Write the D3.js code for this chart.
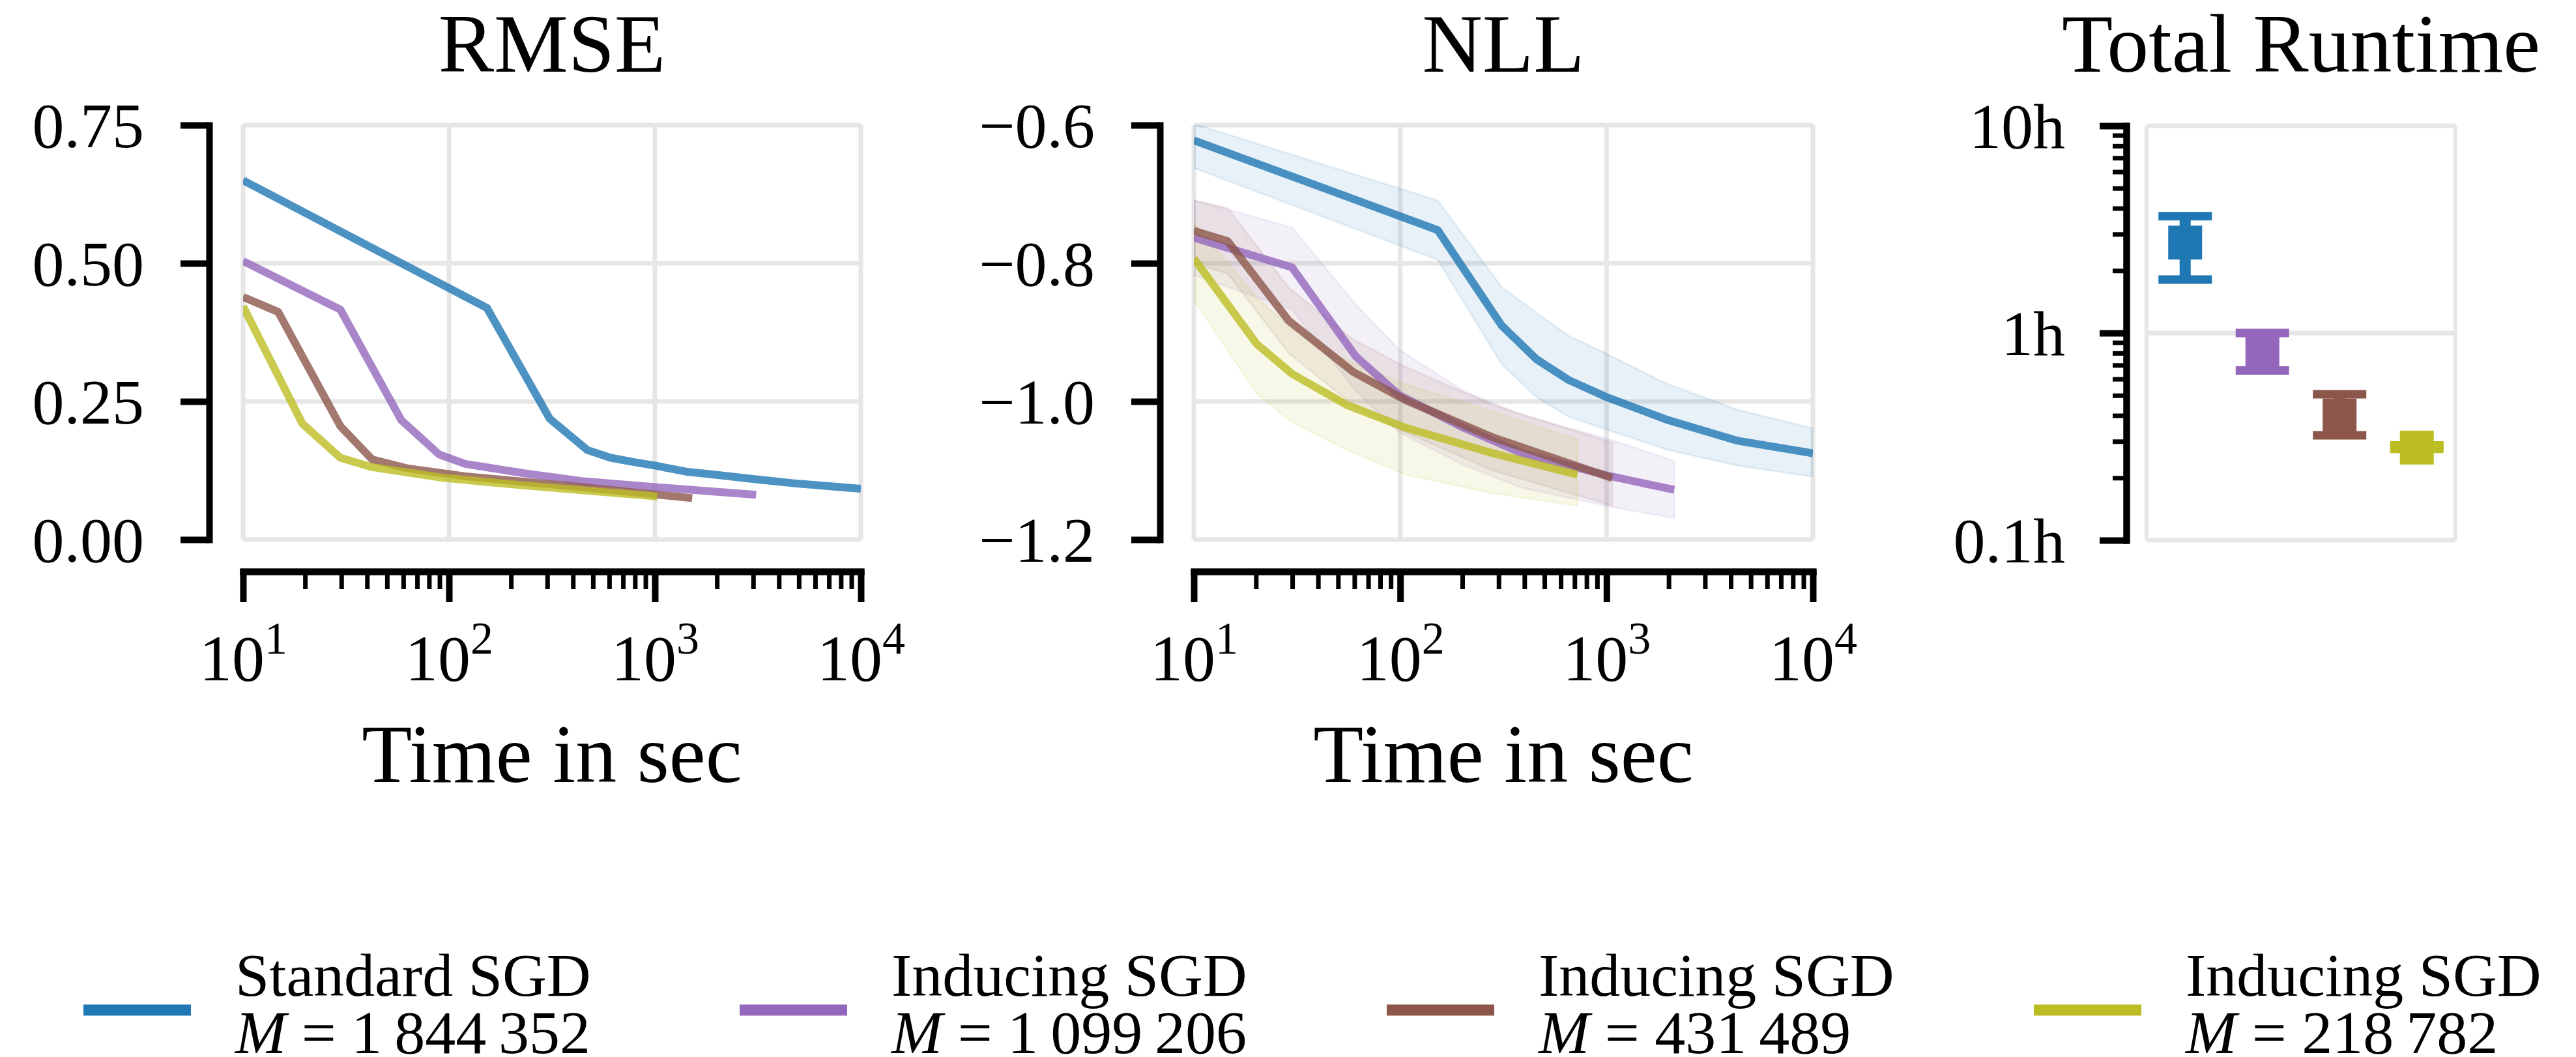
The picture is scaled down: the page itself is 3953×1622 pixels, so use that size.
<!DOCTYPE html>
<html>
<head>
<meta charset="utf-8">
<script src="https://cdn.jsdelivr.net/npm/d3@7"></script>
<style>
  html, body { margin: 0; padding: 0; background: #fff; }
  svg { display: block; }
</style>
</head>
<body>
<svg id="chart" width="3953" height="1622"></svg>
<script>
// ---------- data ----------
const legendTitles = ["Standard SGD", "Inducing SGD", "Inducing SGD", "Inducing SGD"];
const legendM = ["1\u2009844\u2009352", "1\u2009099\u2009206", "431\u2009489", "218\u2009782"];

// RMSE vs. wall-clock time (seconds)
const rmseTimeStandard = [10, 153, 308, 470, 610, 800, 1000, 1413, 2000, 3090, 5000, 10000];
const rmseStandard     = [0.650, 0.419, 0.219, 0.162, 0.148, 0.140, 0.134, 0.123, 0.117, 0.109, 0.101, 0.092];
const rmseTimeInd1 = [10, 29.7, 58.7, 89.6, 120, 231, 440, 1000, 3100];
const rmseInd1     = [0.504, 0.416, 0.216, 0.154, 0.137, 0.120, 0.106, 0.095, 0.081];
const rmseTimeInd2 = [10, 14.8, 29.7, 42.4, 62.6, 120, 440, 1517];
const rmseInd2     = [0.439, 0.412, 0.205, 0.145, 0.129, 0.1145, 0.095, 0.075];
const rmseTimeInd3 = [10, 19.4, 29.7, 42.4, 92.4, 231, 1026];
const rmseInd3     = [0.422, 0.210, 0.148, 0.131, 0.112, 0.098, 0.078];

// NLL vs. wall-clock time: mean with lower / upper band
const nllTimeStandard = [10, 152, 310, 458, 655, 986, 1980, 4325, 10000];
const nllStandard     = [-0.622, -0.752, -0.890, -0.939, -0.969, -0.993, -1.027, -1.057, -1.075];
const nllStandardHi   = [-0.598, -0.709, -0.834, -0.872, -0.905, -0.930, -0.975, -1.012, -1.039];
const nllStandardLo   = [-0.662, -0.795, -0.946, -0.994, -1.022, -1.040, -1.070, -1.093, -1.109];
const nllTimeInd1 = [10, 29.9, 61, 99, 203, 389, 1033, 2128];
const nllInd1     = [-0.763, -0.806, -0.935, -0.991, -1.038, -1.075, -1.108, -1.128];
const nllInd1Hi   = [-0.709, -0.748, -0.860, -0.925, -0.985, -1.020, -1.055, -1.086];
const nllInd1Lo   = [-0.817, -0.867, -0.985, -1.045, -1.092, -1.125, -1.152, -1.169];
const nllTimeInd2 = [10, 14.6, 28.8, 59, 106, 281, 1067];
const nllInd2     = [-0.753, -0.768, -0.883, -0.957, -0.998, -1.052, -1.111];
const nllInd2Hi   = [-0.709, -0.720, -0.835, -0.910, -0.950, -1.005, -1.060];
const nllInd2Lo   = [-0.800, -0.815, -0.930, -1.005, -1.045, -1.100, -1.151];
const nllTimeInd3 = [10, 20.2, 29.9, 55, 106, 281, 722];
const nllInd3     = [-0.793, -0.917, -0.960, -1.005, -1.038, -1.075, -1.106];
const nllInd3Hi   = [-0.741, -0.850, -0.895, -0.940, -0.975, -1.015, -1.055];
const nllInd3Lo   = [-0.853, -0.989, -1.030, -1.070, -1.106, -1.133, -1.151];

// Total runtime in hours: mean with error-bar limits
const runtimeMean = [2.73, 0.81, 0.40, 0.280];
const runtimeLo   = [1.81, 0.66, 0.321, 0.276];
const runtimeHi   = [3.66, 1.00, 0.506, 0.287];

// ticks
const timeTickExponents = [1, 2, 3, 4];
const rmseTicks = [0, 0.25, 0.5, 0.75];
const nllTicks = [-1.2, -1.0, -0.8, -0.6];
const runtimeTicks = [0.1, 1, 10];
const runtimeTickLabels = ["0.1h", "1h", "10h"];

// ---------- styling ----------
const colors = ["#1f77b4", "#9467bd", "#8c564b", "#bcbd22"];
const FONT = "'Liberation Serif', 'DejaVu Serif', serif";
const GRID = "#e6e6e6";

const svg = d3.select("#chart");
svg.append("rect").attr("width", 3953).attr("height", 1622).attr("fill", "#fff");

const zip = (ts, vs, lo, hi) => ts.map((t, i) => ({t, v: vs[i], lo: lo ? lo[i] : null, hi: hi ? hi[i] : null}));

const rmseSeries = [
  zip(rmseTimeStandard, rmseStandard),
  zip(rmseTimeInd1, rmseInd1),
  zip(rmseTimeInd2, rmseInd2),
  zip(rmseTimeInd3, rmseInd3)
];
const nllSeries = [
  zip(nllTimeStandard, nllStandard, nllStandardLo, nllStandardHi),
  zip(nllTimeInd1, nllInd1, nllInd1Lo, nllInd1Hi),
  zip(nllTimeInd2, nllInd2, nllInd2Lo, nllInd2Hi),
  zip(nllTimeInd3, nllInd3, nllInd3Lo, nllInd3Hi)
];

const plotTop = 192, plotBottom = 828;

function styleAxis(g, width) {
  g.select(".domain").attr("stroke", "#000").attr("stroke-width", 10).attr("stroke-linecap", "square");
  g.selectAll(".tick line").attr("stroke", "#000").attr("stroke-width", width);
  g.selectAll("text").attr("font-family", FONT).attr("fill", "#000");
}

function timePanel(id, left, right, yDomain, yTicks, yFmt, title, series, bands) {
  const x = d3.scaleLog().domain([10, 10000]).range([left, right]);
  const y = d3.scaleLinear().domain(yDomain).range([plotBottom, plotTop]);
  const g = svg.append("g");

  // grid
  const majors = timeTickExponents.map(e => Math.pow(10, e));
  g.append("g").selectAll("line").data(majors).join("line")
    .attr("x1", d => x(d)).attr("x2", d => x(d))
    .attr("y1", plotTop).attr("y2", plotBottom)
    .attr("stroke", GRID).attr("stroke-width", 7);
  g.append("g").selectAll("line").data(yTicks).join("line")
    .attr("x1", left).attr("x2", right)
    .attr("y1", d => y(d)).attr("y2", d => y(d))
    .attr("stroke", GRID).attr("stroke-width", 7);

  // clip region
  svg.append("clipPath").attr("id", "clip-" + id)
    .append("rect").attr("x", left).attr("y", plotTop).attr("width", right - left).attr("height", plotBottom - plotTop);
  const plot = g.append("g").attr("clip-path", `url(#clip-${id})`);

  if (bands) {
    const area = d3.area().x(d => x(d.t)).y0(d => y(d.lo)).y1(d => y(d.hi));
    series.forEach((s, i) => {
      plot.append("path").datum(s).attr("d", area)
        .attr("fill", colors[i]).attr("fill-opacity", 0.1)
        .attr("stroke", colors[i]).attr("stroke-opacity", 0.1).attr("stroke-width", 3);
    });
  }
  const line = d3.line().x(d => x(d.t)).y(d => y(d.v));
  series.forEach((s, i) => {
    plot.append("path").datum(s).attr("d", line)
      .attr("fill", "none").attr("stroke", colors[i]).attr("stroke-opacity", 0.8)
      .attr("stroke-width", 12).attr("stroke-linejoin", "round").attr("stroke-linecap", "butt");
  });

  // y axis (offset spine)
  const ya = g.append("g").attr("transform", `translate(${left - 52},0)`)
    .call(d3.axisLeft(y).tickValues(yTicks).tickFormat(yFmt).tickSize(44).tickSizeOuter(0).tickPadding(56));
  styleAxis(ya, 10);
  ya.selectAll("text").attr("font-size", 98).attr("dy", "0.34em");

  // x axis: minor then major ticks
  const minors = [];
  timeTickExponents.slice(0, -1).forEach(e => { for (let k = 2; k <= 9; k++) minors.push(k * Math.pow(10, e)); });
  const xa2 = g.append("g").attr("transform", `translate(0,${plotBottom + 49})`)
    .call(d3.axisBottom(x).tickValues(minors).tickFormat("").tickSize(27).tickSizeOuter(0));
  styleAxis(xa2, 7);
  const xa = g.append("g").attr("transform", `translate(0,${plotBottom + 49})`)
    .call(d3.axisBottom(x).tickValues(majors).tickFormat("").tickSize(47).tickSizeOuter(0));
  styleAxis(xa, 10);
  xa.selectAll(".tick").each(function(d) {
    const t = d3.select(this).append("text")
      .attr("y", 167).attr("text-anchor", "middle")
      .attr("font-family", FONT).attr("font-size", 100).attr("fill", "#000");
    t.append("tspan").text("10");
    t.append("tspan").attr("font-size", 70).attr("dy", -41).text(Math.round(Math.log10(d)));
  });

  // titles
  g.append("text").attr("x", (left + right) / 2).attr("y", 110).attr("text-anchor", "middle")
    .attr("font-family", FONT).attr("font-size", 128).text(title);
  g.append("text").attr("x", (left + right) / 2).attr("y", 1200).attr("text-anchor", "middle")
    .attr("font-family", FONT).attr("font-size", 126).text("Time in sec");
}

timePanel("rmse", 373, 1321, [0, 0.75], rmseTicks, d3.format(".2f"), "RMSE", rmseSeries, false);
timePanel("nll", 1832, 2782, [-1.2, -0.6], nllTicks, d3.format(".1f"), "NLL", nllSeries, true);

// ---------- runtime panel ----------
(function() {
  const left = 3294, right = 3768, t = 193, b = 829;
  const x = d3.scalePoint().domain(d3.range(runtimeMean.length)).range([left, right]).padding(0.5);
  const y = d3.scaleLog().domain([0.1, 10]).range([b, t]);
  const g = svg.append("g");

  g.append("g").selectAll("line").data(runtimeTicks).join("line")
    .attr("x1", left).attr("x2", right).attr("y1", d => y(d)).attr("y2", d => y(d))
    .attr("stroke", GRID).attr("stroke-width", 7);
  g.append("g").selectAll("line").data([left, right]).join("line")
    .attr("x1", d => d).attr("x2", d => d).attr("y1", t).attr("y2", b)
    .attr("stroke", GRID).attr("stroke-width", 6);

  const minors = [];
  [0.1, 1].forEach(base => { for (let k = 2; k <= 9; k++) minors.push(k * base); });
  const ya2 = g.append("g").attr("transform", `translate(${left - 31},0)`)
    .call(d3.axisLeft(y).tickValues(minors).tickFormat("").tickSize(21).tickSizeOuter(0));
  styleAxis(ya2, 7);
  const ya = g.append("g").attr("transform", `translate(${left - 31},0)`)
    .call(d3.axisLeft(y).tickValues(runtimeTicks).tickFormat((d, i) => runtimeTickLabels[i])
      .tickSize(41).tickSizeOuter(0).tickPadding(53));
  styleAxis(ya, 10);
  ya.selectAll("text").attr("font-size", 98).attr("dy", "0.34em");

  const idx = d3.range(runtimeMean.length);
  const eb = g.append("g").selectAll("g").data(idx).join("g");
  eb.append("line")
    .attr("x1", i => x(i)).attr("x2", i => x(i))
    .attr("y1", i => y(runtimeLo[i])).attr("y2", i => y(runtimeHi[i]))
    .attr("stroke", i => colors[i]).attr("stroke-width", 17);
  [runtimeLo, runtimeHi].forEach(arr => {
    eb.append("line")
      .attr("x1", i => x(i) - 41).attr("x2", i => x(i) + 41)
      .attr("y1", i => y(arr[i])).attr("y2", i => y(arr[i]))
      .attr("stroke", i => colors[i]).attr("stroke-width", 13);
  });
  eb.append("rect")
    .attr("x", i => x(i) - 26).attr("y", i => y(runtimeMean[i]) - 26)
    .attr("width", 52).attr("height", 52)
    .attr("fill", i => colors[i]);

  g.append("text").attr("x", (left + right) / 2).attr("y", 110).attr("text-anchor", "middle")
    .attr("font-family", FONT).attr("font-size", 128).text("Total Runtime");
})();

// ---------- legend ----------
const legendX = [128, 1135, 2128, 3121];
const lg = svg.append("g");
legendTitles.forEach((name, i) => {
  const gx = legendX[i];
  lg.append("line").attr("x1", gx).attr("x2", gx + 165).attr("y1", 1550).attr("y2", 1550)
    .attr("stroke", colors[i]).attr("stroke-width", 17);
  lg.append("text").attr("x", gx + 233).attr("y", 1528)
    .attr("font-family", FONT).attr("font-size", 94).text(name);
  const t2 = lg.append("text").attr("x", gx + 233).attr("y", 1616)
    .attr("font-family", FONT).attr("font-size", 94);
  t2.append("tspan").attr("font-style", "italic").text("M");
  t2.append("tspan").text(" = " + legendM[i]);
});
</script>
</body>
</html>
